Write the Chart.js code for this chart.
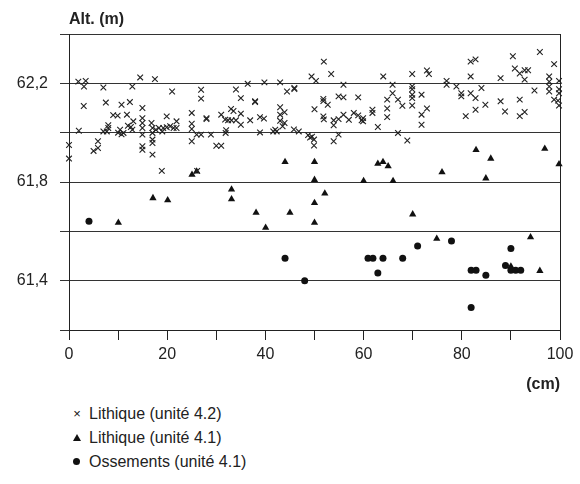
<!DOCTYPE html>
<html>
<head>
<meta charset="utf-8">
<script src="https://cdn.jsdelivr.net/npm/chart.js@4/dist/chart.umd.min.js"></script>
<style>
html,body{margin:0;padding:0;background:#fff;}
#wrap{position:relative;width:580px;height:484px;overflow:hidden;}
#c{position:absolute;left:0;top:0;}
#legend{position:absolute;left:0;top:402px;width:580px;height:82px;font-family:"Liberation Sans",Arial,sans-serif;font-size:16px;color:#222;}
.item{position:absolute;left:70px;height:20px;line-height:20px;white-space:nowrap;}
.sym{position:absolute;left:0;top:0;width:14px;height:20px;}
.txt{position:absolute;left:19px;top:0;}
.cross{font-size:13px;line-height:20px;text-align:center;color:#111;}
.tri{position:absolute;left:3px;top:6px;width:0;height:0;border-left:4px solid transparent;border-right:4px solid transparent;border-bottom:7px solid #111;}
.dot{position:absolute;left:3px;top:6px;width:7px;height:7px;border-radius:50%;background:#111;}
</style>
</head>
<body>
<div id="wrap">
<canvas id="c" width="580" height="400"></canvas>
<div id="legend"></div>
</div>
<script>
// ---- data ----
const xTickLabels = [0, 20, 40, 60, 80, 100];
const yTickLabels = [61.4, 61.8, 62.2];
const seriesNames = ['Lithique (unité 4.2)', 'Lithique (unité 4.1)', 'Ossements (unité 4.1)'];

// Lithique (unité 4.2) - crosses
const lith42X = [0, 0, 1.9, 3.4, 3.05, 2.0, 3.0, 5.0, 5.9, 5.9,
  7.0, 7.5, 7.0, 7.7, 8.0, 8.0, 9.0, 9.9, 10.0, 10.7,
  11.1, 10.4, 10.7, 12.4, 11.8, 12.0, 12.6, 12.9, 13.1, 12.9,
  14.5, 14.95, 14.95, 14.95, 14.95, 14.95, 14.95, 14.95, 16.8, 17.0,
  17.0, 17.7, 18.3, 19.0, 17.0, 17.0, 17.0, 17.5, 18.9, 19.9,
  19.2, 19.9, 20.6, 21.3, 21.9, 21.9, 21.0, 25.0, 25.0, 25.0,
  25.0, 26.0, 26.9, 28.9, 26.1, 26.9, 26.9, 28.0, 28.0, 30.0,
  31.0, 31.0, 31.8, 32.4, 32.0, 31.9, 33.0, 33.5, 33.1, 34.0,
  34.0, 35.0, 35.0, 35.0, 36.4, 36.9, 37.9, 37.9, 38.9, 39.7,
  38.9, 39.8, 41.6, 42.0, 42.3, 43.0, 43.0, 43.9, 43.0, 43.0,
  43.9, 43.5, 44.4, 45.9, 45.9, 45.8, 46.8, 48.7, 49.1, 49.5,
  49.9, 49.9, 49.4, 50.3, 50.0, 51.9, 51.8, 51.8, 52.7, 51.8,
  51.9, 53.4, 54.9, 55.9, 53.9, 53.9, 54.9, 54.9, 53.9, 55.9,
  55.9, 57.0, 58.0, 58.9, 59.6, 58.9, 59.9, 59.9, 61.8, 61.8,
  62.9, 64.0, 65.9, 65.9, 64.8, 64.8, 64.8, 67.0, 67.9, 67.0,
  68.9, 69.9, 69.9, 69.9, 69.9, 69.9, 69.9, 71.8, 72.9, 73.3,
  72.9, 71.8, 71.8, 76.9, 76.9, 78.9, 79.9, 79.9, 80.8, 81.8,
  82.8, 81.8, 81.8, 82.8, 82.8, 84.0, 84.8, 87.9, 87.9, 88.8,
  90.4, 90.8, 91.8, 92.8, 93.5, 92.8, 91.8, 91.8, 92.8, 94.8,
  95.9, 97.8, 97.8, 97.8, 97.8, 98.8, 98.8, 99.6, 99.8, 99.8,
  99.8, 99.8];
const lith42Y = [61.95, 61.895, 62.207, 62.21, 62.187, 62.008, 62.108, 61.926, 61.938, 61.965,
  62.183, 62.122, 62.005, 62.005, 62.03, 62.019, 62.071, 62.069, 62.0, 61.993,
  61.999, 62.012, 62.113, 62.124, 62.073, 62.028, 62.023, 62.012, 62.046, 62.187,
  62.224, 62.1, 62.059, 62.039, 62.019, 61.992, 61.945, 61.931, 62.039, 62.019,
  61.999, 62.012, 62.019, 62.005, 61.972, 61.958, 61.911, 62.217, 61.845, 62.066,
  62.019, 62.022, 62.026, 62.019, 62.046, 62.019, 62.167, 62.08, 62.036, 62.015,
  61.965, 61.992, 61.992, 61.992, 61.845, 62.174, 62.138, 62.059, 62.055, 61.947,
  61.947, 62.073, 62.053, 62.05, 62.01, 61.999, 62.096, 62.088, 62.05, 62.05,
  62.175, 62.14, 62.077, 62.032, 62.198, 62.05, 62.127, 62.124, 62.063, 62.057,
  62.001, 62.204, 62.005, 62.012, 62.005, 62.204, 62.103, 62.083, 62.073, 62.048,
  62.039, 62.026, 62.167, 62.181, 62.177, 62.013, 62.005, 61.99, 61.98, 61.984,
  61.972, 61.948, 62.228, 62.21, 62.095, 62.288, 62.137, 62.128, 62.113, 62.066,
  62.054, 62.238, 62.147, 62.143, 62.05, 62.03, 62.055, 61.992, 61.965, 62.194,
  62.073, 62.052, 62.08, 62.07, 62.05, 62.143, 62.059, 62.046, 62.093, 62.08,
  62.023, 62.228, 62.194, 62.16, 62.134, 62.098, 62.063, 62.134, 62.109, 61.999,
  61.968, 62.238, 62.188, 62.176, 62.154, 62.14, 62.11, 62.154, 62.252, 62.238,
  62.098, 62.073, 62.032, 62.21, 62.194, 62.187, 62.16, 62.147, 62.067, 62.288,
  62.297, 62.228, 62.16, 62.14, 62.093, 62.181, 62.113, 62.221, 62.127, 62.086,
  62.31, 62.26, 62.24, 62.253, 62.253, 62.215, 62.134, 62.067, 62.084, 62.171,
  62.327, 62.228, 62.207, 62.187, 62.167, 62.278, 62.134, 62.13, 62.21, 62.176,
  62.16, 62.11];

// Lithique (unité 4.1) - triangles
const lith41X = [10.05, 17.1, 20.1, 25.05, 26.0, 33.1, 33.1, 38.1, 40.05, 44.0,
  45.0, 50.0, 50.0, 50.0, 50.0, 52.1, 60.0, 62.9, 63.95, 65.0,
  66.0, 70.0, 74.9, 75.97, 82.9, 84.9, 85.9, 90.0, 94.0, 95.9,
  96.9, 99.8];
const lith41Y = [61.635, 61.735, 61.726, 61.83, 61.843, 61.77, 61.73, 61.676, 61.615, 61.881,
  61.676, 61.881, 61.809, 61.715, 61.635, 61.754, 61.804, 61.874, 61.881, 61.864,
  61.804, 61.669, 61.57, 61.84, 61.93, 61.815, 61.895, 61.458, 61.576, 61.44,
  61.935, 61.872];

// Ossements (unité 4.1) - circles
const bonesX = [4.07, 44.0, 48.0, 60.9, 61.9, 63.95, 62.9, 67.96, 71.0, 77.9,
  81.9, 82.9, 84.9, 81.9, 88.9, 90.0, 90.0, 90.97, 92.0];
const bonesY = [61.641, 61.491, 61.4, 61.491, 61.491, 61.491, 61.431, 61.491, 61.541, 61.561,
  61.442, 61.442, 61.422, 61.291, 61.461, 61.53, 61.442, 61.442, 61.442];

// ---- chart ----
const FONT = '"Liberation Sans", Arial, Helvetica, sans-serif';
const INK = '#222';
const toPts = (xs, ys) => xs.map((x, i) => ({ x: x, y: ys[i] }));
const fmt = v => String(v).replace('.', ',');

const chart = new Chart(document.getElementById('c').getContext('2d'), {
  type: 'scatter',
  data: {
    datasets: [
      { label: seriesNames[0], data: toPts(lith42X, lith42Y), pointStyle: 'crossRot', pointRadius: 4, pointHoverRadius: 4,
        borderColor: INK, backgroundColor: INK, borderWidth: 1.1, clip: false },
      { label: seriesNames[1], data: toPts(lith41X, lith41Y), pointStyle: 'triangle', pointRadius: 4.2, pointHoverRadius: 4.2,
        borderColor: '#111', backgroundColor: '#111', borderWidth: 0, clip: false },
      { label: seriesNames[2], data: toPts(bonesX, bonesY), pointStyle: 'circle', pointRadius: 3.5, pointHoverRadius: 3.5,
        borderColor: '#111', backgroundColor: '#111', borderWidth: 0, clip: false }
    ]
  },
  options: {
    responsive: false,
    animation: false,
    events: [],
    layout: { padding: { left: 0, right: 20, top: 0, bottom: 0 } },
    plugins: {
      legend: { display: false },
      tooltip: { enabled: false },
      title: {
        display: true, text: 'Alt. (m)', align: 'start', fullSize: false,
        color: INK, font: { family: FONT, size: 16, weight: 'bold' },
        padding: { top: 10, bottom: 4.8 }
      }
    },
    scales: {
      x: {
        type: 'linear', min: 0, max: 100,
        afterFit: s => { s.height = 70; },
        ticks: {
          stepSize: 10, autoSkip: false, maxRotation: 0, padding: 5,
          color: INK, font: { family: FONT, size: 16 },
          callback: v => (xTickLabels.includes(Math.round(v)) ? String(Math.round(v)) : '')
        },
        grid: {
          drawOnChartArea: true, drawTicks: true, tickLength: 10, lineWidth: 1,
          color: c => (c.tick && Math.round(c.tick.value) === 100 ? INK : 'rgba(0,0,0,0)'),
          tickColor: INK
        },
        border: { display: true, color: INK, width: 1 },
        title: {
          display: true, text: '(cm)', align: 'end', color: INK,
          font: { family: FONT, size: 16, weight: 'bold' },
          padding: { top: 4, bottom: 6 }
        }
      },
      y: {
        type: 'linear', min: 61.2, max: 62.4,
        afterFit: s => { s.width = 69; },
        ticks: {
          stepSize: 0.2, autoSkip: false, padding: 12,
          color: INK, font: { family: FONT, size: 16 },
          callback: v => {
            const r = Math.round(v * 10) / 10;
            return yTickLabels.includes(r) ? fmt(r) : '';
          }
        },
        grid: { color: '#333', lineWidth: 1, tickLength: 9, tickColor: '#333' },
        border: { display: true, color: INK, width: 1 }
      }
    }
  }
});

// ---- legend (HTML text) ----
const legend = document.getElementById('legend');
const symHtml = ['<div class="sym cross">×</div>', '<div class="sym"><div class="tri"></div></div>', '<div class="sym"><div class="dot"></div></div>'];
const legendCenters = [12, 36, 60];
seriesNames.forEach((name, i) => {
  const d = document.createElement('div');
  d.className = 'item';
  d.style.top = (legendCenters[i] - 10) + 'px';
  d.innerHTML = symHtml[i] + '<span class="txt">' + name + '</span>';
  legend.appendChild(d);
});
</script>
</body>
</html>
